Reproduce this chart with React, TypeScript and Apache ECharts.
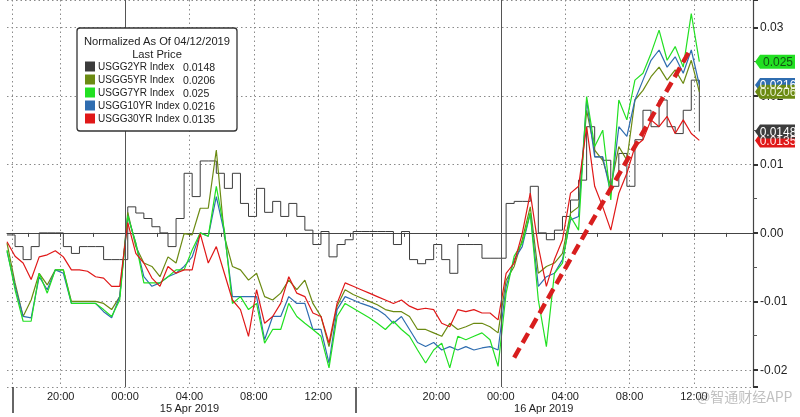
import React, { useEffect, useRef } from "react";
import * as echarts from "echarts";

const FONT = "'Liberation Sans', Arial, sans-serif";

const seriesNames = ["USGG2YR Index", "USGG5YR Index", "USGG7YR Index", "USGG10YR Index", "USGG30YR Index"];
const lastPrices = ["0.0148", "0.0206", "0.025", "0.0216", "0.0135"];
const seriesColors = ["#3c3c3c", "#6b8a12", "#22e022", "#2f6db0", "#e01818"];
const tagTextColors = ["#ffffff", "#e6edcc", "#145214", "#ffffff", "#ffe8e8"];

// 10-minute slots; sessions in minutes from 14 Apr 2019 00:00
const SESSION_RANGES: [number, number][] = [[1000, 2290], [2340, 3820]];
const SLOT_MINUTES = 10;
const SAMPLE_EVERY = 3; // one reading every 3 slots (30 min)
const dateNames: Record<string, string> = { "14": "14 Apr 2019", "15": "15 Apr 2019", "16": "16 Apr 2019" };
const dateLabelSlots = ["15 04:00", "16 02:40"];
const sessionStartSlots = ["14 17:00", "15 15:00"];
const midnightSlots = ["15 00:00", "16 00:00"];
const hiddenTimeLabels = ["15 16:00"];
const trendFrom: [string, number] = ["16 00:50", -0.0182];
const trendTo: [string, number] = ["16 11:50", 0.027];

// readings (every 30 minutes of trading time)
const usgg2 = [
  -0.0003, -0.0020, -0.0039, -0.0020, 0.0000, 0.0000, 0.0000, -0.0020, -0.0030, -0.0020,
  -0.0020, -0.0020, -0.0039, -0.0039, -0.0039, 0.0038, 0.0029, 0.0021, 0.0009, 0.0000,
  -0.0020, 0.0021, 0.0087, 0.0053, 0.0105, 0.0105, 0.0087, 0.0065, 0.0087, 0.0043,
  0.0024, 0.0065, 0.0030, 0.0046, 0.0024, 0.0043, 0.0024, 0.0004, -0.0017, 0.0002,
  -0.0035, -0.0017, -0.0010, 0.0002, 0.0002, 0.0002, 0.0002, 0.0002, -0.0017, 0.0002,
  -0.0039, -0.0045, -0.0039, -0.0017, -0.0039, -0.0059, -0.0017, -0.0017, -0.0017, -0.0037,
  -0.0037, -0.0037, 0.0043, 0.0046, 0.0046, 0.0068, 0.0000, -0.0010, 0.0004, 0.0024,
  0.0048, 0.0077, 0.0155, 0.0111, 0.0106, 0.0068, 0.0116, 0.0068, 0.0136, 0.0179,
  0.0155, 0.0194, 0.0155, 0.0145, 0.0179, 0.0223, 0.0148,
];
const usgg5 = [
  -0.0015, -0.0073, -0.0122, -0.0098, -0.0059, -0.0076, -0.0054, -0.0054, -0.0100, -0.0100,
  -0.0100, -0.0100, -0.0103, -0.0112, -0.0093, 0.0030, -0.0020, -0.0044, -0.0049, -0.0064,
  -0.0035, -0.0044, -0.0001, -0.0003, 0.0036, 0.0036, 0.0121, -0.0005, -0.0049, -0.0054,
  -0.0069, -0.0059, -0.0093, -0.0098, -0.0088, -0.0069, -0.0083, -0.0069, -0.0103, -0.0122,
  -0.0166, -0.0107, -0.0083, -0.0090, -0.0095, -0.0100, -0.0105, -0.0112, -0.0115, -0.0115,
  -0.0122, -0.0141, -0.0141, -0.0146, -0.0151, -0.0132, -0.0141, -0.0137, -0.0132, -0.0132,
  -0.0137, -0.0146, -0.0069, -0.0049, -0.0010, 0.0038, -0.0059, -0.0049, -0.0044, -0.0030,
  0.0029, 0.0038, 0.0179, 0.0121, 0.0106, 0.0068, 0.0126, 0.0106, 0.0194, 0.0208,
  0.0228, 0.0242, 0.0223, 0.0238, 0.0218, 0.0252, 0.0206,
];
const usgg7 = [
  -0.0025, -0.0083, -0.0129, -0.0129, -0.0059, -0.0088, -0.0054, -0.0054, -0.0103, -0.0103,
  -0.0103, -0.0103, -0.0112, -0.0122, -0.0098, 0.0025, -0.0015, -0.0073, -0.0073, -0.0073,
  -0.0064, -0.0054, -0.0054, -0.0025, 0.0000, -0.0005, 0.0068, 0.0004, -0.0103, -0.0093,
  -0.0112, -0.0103, -0.0161, -0.0141, -0.0141, -0.0103, -0.0122, -0.0132, -0.0141, -0.0151,
  -0.0197, -0.0122, -0.0103, -0.0110, -0.0117, -0.0124, -0.0132, -0.0141, -0.0129, -0.0141,
  -0.0151, -0.0171, -0.0190, -0.0171, -0.0161, -0.0197, -0.0151, -0.0156, -0.0151, -0.0146,
  -0.0156, -0.0195, -0.0088, -0.0034, -0.0015, 0.0029, -0.0098, -0.0166, -0.0059, -0.0044,
  0.0024, 0.0004, 0.0199, 0.0126, 0.0150, 0.0048, 0.0194, 0.0165, 0.0223, 0.0233,
  0.0262, 0.0296, 0.0252, 0.0272, 0.0242, 0.0320, 0.0250,
];
const usgg10 = [
  -0.0027, -0.0078, -0.0122, -0.0124, -0.0064, -0.0083, -0.0054, -0.0059, -0.0103, -0.0103,
  -0.0103, -0.0103, -0.0115, -0.0124, -0.0093, 0.0025, -0.0015, -0.0064, -0.0078, -0.0073,
  -0.0064, -0.0059, -0.0049, -0.0035, 0.0000, -0.0005, 0.0053, 0.0000, -0.0093, -0.0093,
  -0.0093, -0.0093, -0.0156, -0.0122, -0.0122, -0.0093, -0.0103, -0.0103, -0.0141, -0.0141,
  -0.0190, -0.0112, -0.0093, -0.0098, -0.0103, -0.0107, -0.0112, -0.0120, -0.0132, -0.0122,
  -0.0141, -0.0160, -0.0166, -0.0160, -0.0171, -0.0166, -0.0171, -0.0166, -0.0171, -0.0168,
  -0.0166, -0.0171, -0.0078, -0.0039, -0.0020, 0.0029, -0.0078, -0.0064, -0.0059, -0.0039,
  0.0019, 0.0024, 0.0194, 0.0111, 0.0111, 0.0058, 0.0155, 0.0141, 0.0194, 0.0223,
  0.0252, 0.0267, 0.0242, 0.0257, 0.0233, 0.0267, 0.0216,
];
const usgg30 = [
  -0.0013, -0.0034, -0.0044, -0.0068, -0.0035, -0.0032, -0.0026, -0.0035, -0.0054, -0.0054,
  -0.0056, -0.0064, -0.0066, -0.0078, -0.0078, 0.0015, -0.0030, -0.0044, -0.0066, -0.0078,
  -0.0049, -0.0059, -0.0054, -0.0054, -0.0001, -0.0044, -0.0020, -0.0059, -0.0098, -0.0112,
  -0.0151, -0.0083, -0.0132, -0.0122, -0.0103, -0.0064, -0.0088, -0.0093, -0.0117, -0.0122,
  -0.0161, -0.0103, -0.0073, -0.0078, -0.0083, -0.0088, -0.0093, -0.0098, -0.0103, -0.0098,
  -0.0107, -0.0112, -0.0110, -0.0112, -0.0132, -0.0137, -0.0112, -0.0115, -0.0112, -0.0117,
  -0.0117, -0.0127, -0.0059, -0.0044, -0.0001, 0.0058, -0.0020, -0.0078, -0.0039, -0.0010,
  0.0058, 0.0068, 0.0155, 0.0068, 0.0038, 0.0004, 0.0058, 0.0087, 0.0126, 0.0136,
  0.0165, 0.0155, 0.0170, 0.0145, 0.0165, 0.0145, 0.0135,
];
const seriesValues = [usgg2, usgg5, usgg7, usgg10, usgg30];

const pad = (n: number) => (n < 10 ? "0" + n : "" + n);
function buildSlots(): string[] {
  const out: string[] = [];
  for (const [a, b] of SESSION_RANGES) {
    for (let m = a; m <= b; m += SLOT_MINUTES) {
      const day = 14 + Math.floor(m / 1440);
      const mm = m % 1440;
      out.push(`${day} ${pad(Math.floor(mm / 60))}:${pad(mm % 60)}`);
    }
  }
  return out;
}
const slots = buildSlots();
const hm = (v: string) => {
  const t = v.split(" ")[1];
  return { h: parseInt(t.slice(0, 2), 10), m: parseInt(t.slice(3, 5), 10) };
};

const LEGEND_TOP = 60;
const LEGEND_ROW_TEXT = { fontFamily: FONT, fontSize: 10.5, lineHeight: 13, color: "#222" };

export default function App() {
  const ref = useRef<HTMLDivElement>(null);
  useEffect(() => {
    if (!ref.current) return;
    const chart = echarts.init(ref.current, null, { renderer: "svg" });
    const drawOrder = [0, 1, 3, 2, 4];
    const series: any[] = drawOrder.map((i) => ({
      name: seriesNames[i],
      type: "line",
      data: seriesValues[i].map((v, k) => [k * SAMPLE_EVERY, v]),
      showSymbol: false,
      symbol: "none",
      step: i === 0 ? "end" : false,
      itemStyle: { color: seriesColors[i] },
      lineStyle: { color: seriesColors[i], width: i === 0 ? 1 : 1.2 },
      z: 2,
      silent: true,
    }));
    series[0].markLine = {
      silent: true,
      symbol: ["none", "none"],
      label: { show: false },
      lineStyle: { color: "#555", type: "solid", width: 1 },
      data: midnightSlots.map((s) => ({ xAxis: s })),
    };
    series[4].markLine = {
      silent: true,
      symbol: ["none", "arrow"],
      symbolSize: [0, 16],
      label: { show: false },
      lineStyle: { color: "#d81e1e", type: [11, 6], width: 4.5 },
      data: [[{ coord: trendFrom }, { coord: trendTo }]],
    };

    const baseGraphic: any[] = [
      {
        id: "box", type: "rect", z: 100,
        shape: { x: 77, y: 28, width: 160, height: 103, r: 3 },
        style: { fill: "#ffffff", stroke: "#333", lineWidth: 1.3 },
      },
      {
        id: "title1", type: "text", z: 101, x: 157, y: 41,
        style: { text: "Normalized As Of 04/12/2019", fill: "#222", font: `11.2px ${FONT}`, align: "center", verticalAlign: "middle" },
      },
      {
        id: "title2", type: "text", z: 101, x: 157, y: 54,
        style: { text: "Last Price", fill: "#222", font: `11.2px ${FONT}`, align: "center", verticalAlign: "middle" },
      },
      {
        id: "wm", type: "text", z: 120, x: 697, y: 396,
        style: { text: "@智通财经APP", fill: "rgba(150,150,150,0.6)", font: "14px 'Noto Sans CJK SC', sans-serif", align: "left", verticalAlign: "middle" },
      },
    ];

    const option: any = {
      animation: false,
      grid: { left: 7, right: 47, top: 0, bottom: 30, containLabel: false, outerBoundsMode: "none" },
      xAxis: [
        {
          type: "category",
          data: slots,
          boundaryGap: false,
          axisLine: { show: true, lineStyle: { color: "#444", width: 1.2 } },
          axisTick: {
            show: true,
            length: 4,
            interval: (_i: number, v: string) => { const t = hm(v); return t.m === 0 && t.h % 2 === 0; },
            lineStyle: { color: "#444" },
          },
          axisLabel: {
            interval: (_i: number, v: string) => { const t = hm(v); return t.m === 0 && t.h % 4 === 0 && hiddenTimeLabels.indexOf(v) < 0; },
            formatter: (v: string) => v.split(" ")[1],
            fontSize: 11,
            color: "#222",
            margin: 3,
            fontFamily: FONT,
          },
          splitLine: {
            show: true,
            interval: (_i: number, v: string) => { const t = hm(v); return sessionStartSlots.indexOf(v) >= 0 || (t.m === 0 && t.h % 4 === 0); },
            lineStyle: { color: "#8a8a8a", type: [1.5, 3], width: 1 },
          },
        },
        {
          type: "category",
          data: slots,
          boundaryGap: false,
          position: "bottom",
          axisLine: { show: false },
          axisTick: {
            show: true,
            length: 26,
            interval: (_i: number, v: string) => sessionStartSlots.indexOf(v) >= 0,
            lineStyle: { color: "#333", width: 1.5 },
          },
          axisLabel: {
            interval: (_i: number, v: string) => dateLabelSlots.indexOf(v) >= 0,
            formatter: (v: string) => dateNames[v.split(" ")[0]],
            fontSize: 11,
            color: "#222",
            margin: 15,
            fontFamily: FONT,
          },
          splitLine: { show: false },
        },
      ],
      yAxis: {
        type: "value",
        position: "right",
        min: -0.0225,
        max: 0.034,
        splitNumber: 5,
        axisLine: { show: true, lineStyle: { color: "#444", width: 1.2 } },
        axisTick: { show: true, length: 5, lineStyle: { color: "#333", width: 2 } },
        minorTick: { show: true, splitNumber: 2, length: 4, lineStyle: { color: "#555" } },
        axisLabel: {
          showMinLabel: false,
          showMaxLabel: false,
          formatter: (v: number) => v.toFixed(2),
          color: "#222",
          fontSize: 12,
          margin: 7,
          fontFamily: FONT,
        },
        splitLine: { show: true, lineStyle: { color: "#8a8a8a", type: [1.5, 3], width: 1 } },
      },
      legend: [
        {
          data: seriesNames,
          orient: "vertical",
          left: 85,
          top: LEGEND_TOP,
          padding: 0,
          itemWidth: 10,
          itemHeight: 10,
          itemGap: 0,
          icon: "rect",
          selectedMode: false,
          z: 110,
          textStyle: { ...LEGEND_ROW_TEXT, fontSize: 10, padding: [0, 0, 0, -2] },
        },
        {
          data: seriesNames,
          orient: "vertical",
          left: 178,
          top: LEGEND_TOP,
          padding: 0,
          itemWidth: 0,
          itemHeight: 10,
          itemGap: 0,
          icon: "rect",
          itemStyle: { opacity: 0 },
          selectedMode: false,
          z: 110,
          formatter: (name: string) => lastPrices[seriesNames.indexOf(name)],
          textStyle: { ...LEGEND_ROW_TEXT },
        },
      ],
      graphic: baseGraphic,
      series,
    };
    chart.setOption(option);

    const tagOrder = [3, 1, 4, 0, 2];
    const tags = tagOrder.map((i) => {
      const last = seriesValues[i][seriesValues[i].length - 1];
      const py = chart.convertToPixel({ yAxisIndex: 0 } as any, last) as number;
      return {
        id: "tag" + i,
        type: "group",
        x: 755,
        y: py,
        z: 90,
        children: [
          {
            type: "polygon",
            z: 90,
            shape: { points: [[0, 0], [5, -7], [40, -7], [40, 7], [5, 7]] },
            style: { fill: seriesColors[i] },
          },
          {
            type: "text",
            z: 91,
            x: 23,
            y: 0.5,
            style: { text: lastPrices[i], fill: tagTextColors[i], font: `12px ${FONT}`, align: "center", verticalAlign: "middle" },
          },
        ],
      };
    });
    chart.setOption({ graphic: [...baseGraphic, ...tags] });

    return () => chart.dispose();
  }, []);
  return <div ref={ref} style={{ position: "fixed", left: 0, top: 0, width: 800, height: 417 }} />;
}
